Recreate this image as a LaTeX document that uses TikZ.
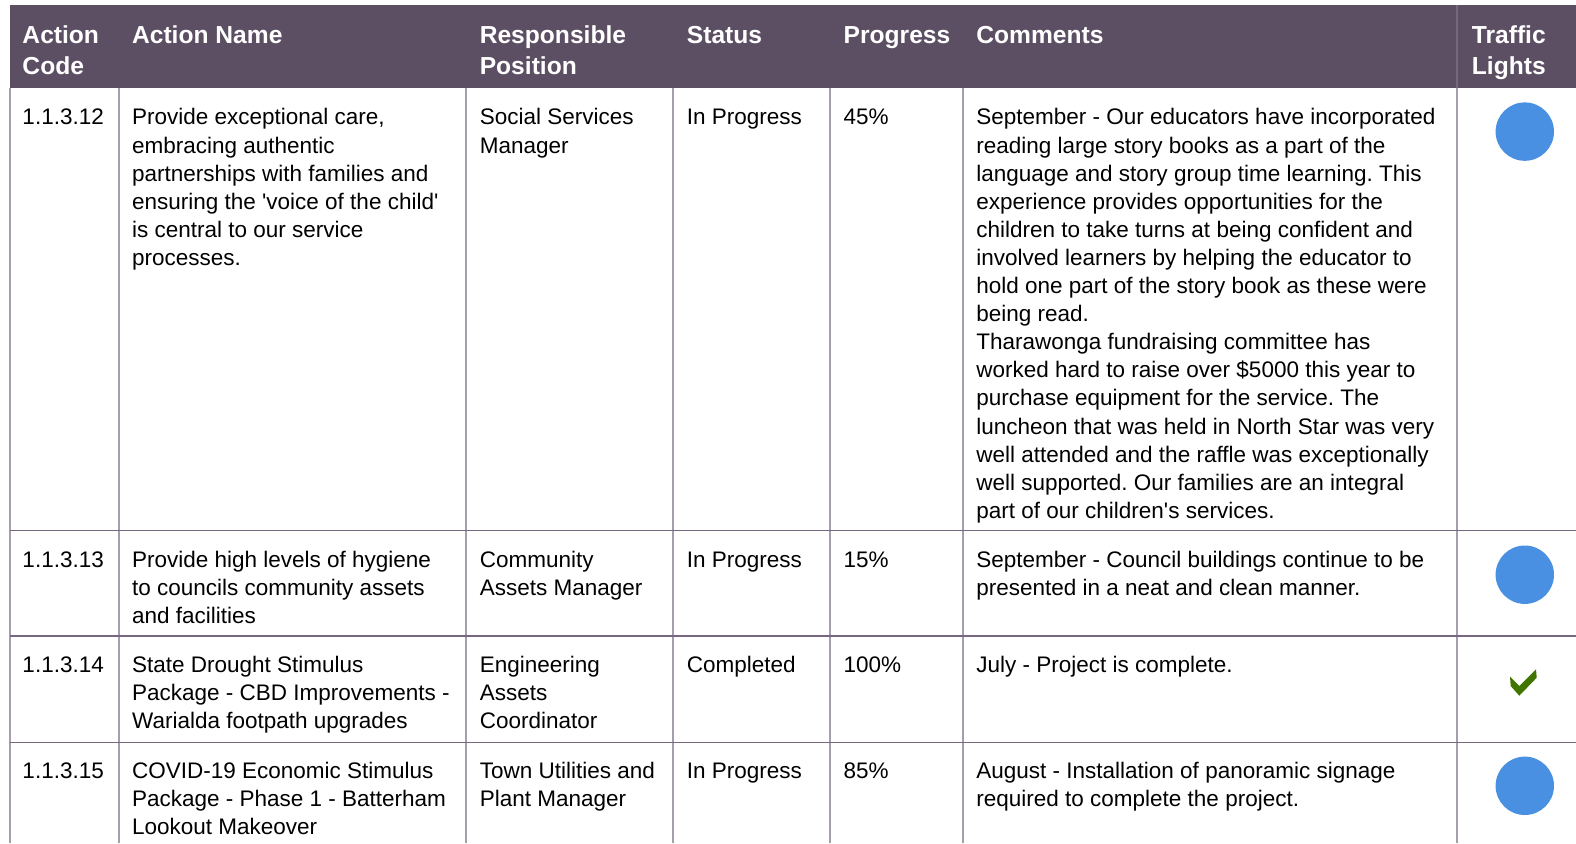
\documentclass[tikz,border=0pt]{standalone}
\usepackage{fontspec}
\setmainfont{Liberation Sans}
\usetikzlibrary{positioning}
\definecolor{headbg}{RGB}{93,79,99}
\definecolor{rowline}{RGB}{118,104,128}
\definecolor{colline}{RGB}{166,157,175}
\definecolor{lightblue}{RGB}{74,144,226}
\definecolor{tickgreen}{RGB}{64,118,0}

\begin{document}
\begin{tikzpicture}[x=0.5pt,y=-0.5pt,
  cell/.style={anchor=north west,inner sep=0pt,align=flush left,text width=250pt,
    font=\fontsize{11.25}{14.05}\selectfont\frenchspacing,execute at begin node=\strut},
  head/.style={anchor=north west,inner sep=0pt,align=flush left,text width=100pt,text=white,
    font=\fontsize{12.3}{15.5}\selectfont\bfseries\frenchspacing,execute at begin node=\strut},
  light/.style={circle,fill=lightblue,inner sep=0pt,minimum size=29.2pt}]
\useasboundingbox (0,0) rectangle (1576,843);
\clip (0,0) rectangle (1576,843);

% header band
\fill [headbg] (10,5) rectangle (1576,88.4);
\draw [line width=1pt,color=headbg!85!white] (1457.4,5) -- (1457.4,88.4);

% grid
\draw [line width=1pt,color=colline] (10,88.4) -- (10,843);
\draw [line width=1pt,color=colline] (118.6,88.4) -- (118.6,843);
\draw [line width=1pt,color=colline] (466.4,88.4) -- (466.4,843);
\draw [line width=1pt,color=colline] (673.4,88.4) -- (673.4,843);
\draw [line width=1pt,color=colline] (830.2,88.4) -- (830.2,843);
\draw [line width=1pt,color=colline] (962.9,88.4) -- (962.9,843);
\draw [line width=1pt,color=colline] (1457.4,88.4) -- (1457.4,843);
\draw [line width=0.8pt,color=rowline] (10,530.5) -- (1576,530.5);
\draw [line width=0.8pt,color=rowline] (10,636) -- (1576,636);
\draw [line width=0.8pt,color=rowline] (10,742.5) -- (1576,742.5);

% header
\node [head] (hd1) at (22.1,21.5) {Action\\Code};
\node [head] (hd2) at (131.7,21.5) {Action Name};
\node [head] (hd3) at (479.4,21.5) {Responsible\\Position};
\node [head] (hd4) at (686.5,21.5) {Status};
\node [head] (hd5) at (843.3,21.5) {Progress};
\node [head] (hd6) at (976,21.5) {Comments};
\node [head] (hd7) at (1471.5,21.5) {Traffic\\Lights};

% row 1
\node [cell] (code1) at (22.1,104.9) {1.1.3.12};
\node [cell] (name1) at (131.7,104.9) {Provide exceptional care,\\embracing authentic\\partnerships with families and\\ensuring the \textquotesingle voice of the child\textquotesingle\\is central to our service\\processes.};
\node [cell] (pos1) at (479.4,104.9) {Social Services\\Manager};
\node [cell] (stat1) at (686.5,104.9) {In Progress};
\node [cell] (prog1) at (843.3,104.9) {45\%};
\node [cell] (comm1) at (976,104.9) {September - Our educators have incorporated\\reading large story books as a part of the\\language and story group time learning. This\\experience provides opportunities for the\\children to take turns at being confident and\\involved learners by helping the educator to\\hold one part of the story book as these were\\being read.\\Tharawonga fundraising committee has\\worked hard to raise over \$5000 this year to\\purchase equipment for the service. The\\luncheon that was held in North Star was very\\well attended and the raffle was exceptionally\\well supported. Our families are an integral\\part of our children\textquotesingle s services.};
\node [light] (tl1) at (1524.8,131.6) {};

% row 2
\node [cell] (code2) at (22.1,547.5) {1.1.3.13};
\node [cell] (name2) at (131.7,547.5) {Provide high levels of hygiene\\to councils community assets\\and facilities};
\node [cell] (pos2) at (479.4,547.5) {Community\\Assets Manager};
\node [cell] (stat2) at (686.5,547.5) {In Progress};
\node [cell] (prog2) at (843.3,547.5) {15\%};
\node [cell] (comm2) at (976,547.5) {September - Council buildings continue to be\\presented in a neat and clean manner.};
\node [light] (tl2) at (1524.8,574.7) {};

% row 3
\node [cell] (code3) at (22.1,652.5) {1.1.3.14};
\node [cell] (name3) at (131.7,652.5) {State Drought Stimulus\\Package - CBD Improvements -\\Warialda footpath upgrades};
\node [cell] (pos3) at (479.4,652.5) {Engineering\\Assets\\Coordinator};
\node [cell] (stat3) at (686.5,652.5) {Completed};
\node [cell] (prog3) at (843.3,652.5) {100\%};
\node [cell] (comm3) at (976,652.5) {July - Project is complete.};
\fill [tickgreen] (1510,676.7) -- (1510.7,686) -- (1519.3,695.7) -- (1536.7,677.7)
  -- (1536,669.3) -- (1519.3,686) -- cycle;

% row 4
\node [cell] (code4) at (22.1,758) {1.1.3.15};
\node [cell] (name4) at (131.7,758) {COVID-19 Economic Stimulus\\Package - Phase 1 - Batterham\\Lookout Makeover};
\node [cell] (pos4) at (479.4,758) {Town Utilities and\\Plant Manager};
\node [cell] (stat4) at (686.5,758) {In Progress};
\node [cell] (prog4) at (843.3,758) {85\%};
\node [cell] (comm4) at (976,758) {August - Installation of panoramic signage\\required to complete the project.};
\node [light] (tl4) at (1524.8,785.8) {};
\end{tikzpicture}
\end{document}
